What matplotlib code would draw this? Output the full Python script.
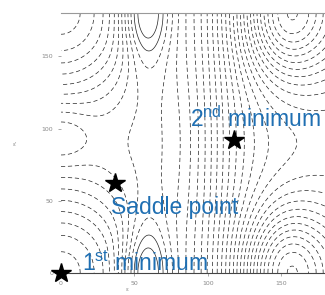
import numpy as np
import matplotlib.pyplot as plt

plt.rcParams["mathtext.fontset"] = "custom"
plt.rcParams["mathtext.rm"] = "Liberation Sans"

# wells / bumps (centre x, centre y, amplitude, width x, width y)
bump_x = [0, 152, 185, 58, 56, 0]
bump_y = [0, 0, 0, 180, 0, 95]
bump_amp = [-1.0, -0.9, -0.5, 0.45, 0.22, 0.2]
bump_sx = [40, 20, 30, 11, 12, 15]
bump_sy = [45, 30, 40, 32, 17, 15]

# step down from the middle to the right half
step_x = 105
step_amp = -1.4
step_w = 14

levels = np.arange(-2.85, 0.2, 0.1)

# marked points
star_x = [0, 37, 118]
star_y = [0, 62, 92]

labels = ["1$^{\\rm st}$ minimum", "Saddle point", "2$^{\\rm nd}$ minimum"]
label_x = [14.5, 34, 88]
label_y = [1.5, 41, 101]

x = np.linspace(0, 180, 241)
y = np.linspace(0, 180, 241)
X, Y = np.meshgrid(x, y)
Z = step_amp / (1 + np.exp(-(X - step_x) / step_w))
for cx, cy, a, sx, sy in zip(bump_x, bump_y, bump_amp, bump_sx, bump_sy):
    for shift in (-180, 0, 180):
        Z += a * np.exp(-((X - cx) ** 2) / (2 * sx ** 2) - ((Y - cy - shift) ** 2) / (2 * sy ** 2))

styles = ["solid" if lv > 0 else (0, (6, 4)) for lv in levels]

fig = plt.figure(figsize=(3.25, 2.95), dpi=100)
ax = fig.add_axes([61 / 325, 22 / 295, 264 / 325, 260 / 295])
ax.contour(X, Y, Z, levels=levels, colors="#222222", linewidths=0.5, linestyles=styles)
ax.set_xlim(0, 180)
ax.set_ylim(0, 180)

ax.set_xticks([0, 50, 100, 150])
ax.set_yticks([0, 50, 100, 150])
ax.tick_params(labelsize=4.5, labelcolor="#888888", length=2, width=0.5, color="#888888")
for side in ("left", "right"):
    ax.spines[side].set_visible(False)
ax.spines["top"].set_color("#999999")
ax.spines["bottom"].set_color("#444444")
ax.spines["bottom"].set_linewidth(0.8)
ax.set_xlabel("ε", fontsize=4, color="#888888")
ax.xaxis.set_label_coords(0.25, -0.055)
fig.text(15 / 325, 1 - 145 / 295, "ε'", fontsize=4, color="#888888", ha="center", va="center")

ax.plot(star_x, star_y, "*", color="k", markersize=15, clip_on=False, zorder=5)
for t, lx, ly in zip(labels, label_x, label_y):
    ax.text(lx, ly, t, fontsize=16.5, color="#1f6fb2", family="Liberation Sans", zorder=6)

fig.savefig("out.png", dpi=100)
